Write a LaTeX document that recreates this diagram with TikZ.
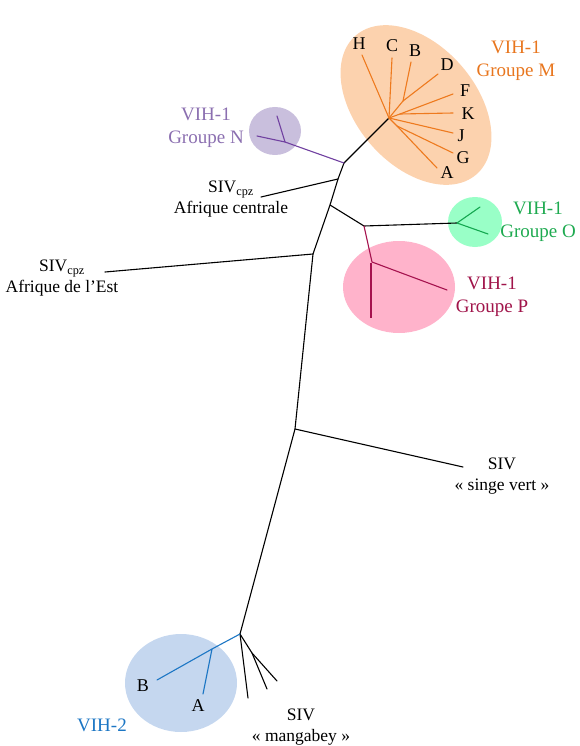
\documentclass[tikz,border=0pt]{standalone}
\usepackage{fontspec}
\setmainfont{Liberation Serif}
\definecolor{mfill}{HTML}{FCD2AE}
\definecolor{mline}{HTML}{EE7A1E}
\definecolor{mtext}{HTML}{E8761E}
\definecolor{nfill}{HTML}{C9BFDD}
\definecolor{nline}{HTML}{7040A0}
\definecolor{ntext}{HTML}{8B6FB0}
\definecolor{ofill}{HTML}{99FFC7}
\definecolor{oline}{HTML}{14A850}
\definecolor{otext}{HTML}{1EAA50}
\definecolor{pfill}{HTML}{FFB3CB}
\definecolor{pline}{HTML}{A5124E}
\definecolor{ptext}{HTML}{A0144A}
\definecolor{bfill}{HTML}{C5D7EF}
\definecolor{bline}{HTML}{1C76C4}
\begin{document}
\begin{tikzpicture}[x=1pt,y=-1pt,
  br/.style={line width=1.1pt, line cap=round},
  lab/.style={font=\fontsize{17.5}{21}\selectfont, align=center, inner sep=0pt},
  vih/.style={font=\fontsize{19}{23}\selectfont, align=center, inner sep=0pt},
  let/.style={font=\fontsize{18}{21}\selectfont, inner sep=0pt}]
\useasboundingbox (0,0) rectangle (579,746);
% ellipses
\fill[mfill, shift={(416,105)}, rotate=-49] (0,0) ellipse [x radius=92, y radius=60];
\fill[nfill] (275,131) ellipse [x radius=26, y radius=24];
\fill[ofill] (475,222) ellipse [x radius=27, y radius=25];
\fill[pfill] (399,287) ellipse [x radius=56, y radius=46];
\fill[bfill] (181,683) ellipse [x radius=56, y radius=49];
% coordinates
\coordinate (vm) at (240,634);
\coordinate (vsv) at (295,429);
\coordinate (vea) at (313,254);
\coordinate (vop) at (330,205);
\coordinate (vac) at (338,179);
\coordinate (vnm) at (344,163);
\coordinate (mh) at (389,118);
\coordinate (sv) at (463,467);
\coordinate (ea) at (105,272);
\coordinate (ac) at (261,197);
\coordinate (opi) at (364,226);
\coordinate (oh) at (457,223);
\coordinate (o1) at (480,207);
\coordinate (o2) at (488,234);
\coordinate (ph) at (372,262);
\coordinate (p1) at (447,290);
\coordinate (pv1) at (371,263);
\coordinate (pv2) at (371,318);
\coordinate (nh) at (285,142);
\coordinate (n1) at (257,136);
\coordinate (n2) at (277,116);
\coordinate (mH) at (362,55);
\coordinate (mC) at (392,58);
\coordinate (mbd) at (403,101);
\coordinate (mB) at (411,62);
\coordinate (mD) at (438,74);
\coordinate (mfk) at (400,114);
\coordinate (mF) at (453,94);
\coordinate (mK) at (453,113);
\coordinate (mJ) at (453,133);
\coordinate (mga) at (397,126);
\coordinate (mG) at (453,153);
\coordinate (mA) at (437,168);
\coordinate (mg1) at (248,698);
\coordinate (mgs) at (252,653);
\coordinate (mg2) at (267,689);
\coordinate (mg3) at (277,681);
\coordinate (v2h) at (212,649);
\coordinate (v2B) at (157,680);
\coordinate (v2A) at (203,694);
% black tree
\draw[br] (vm) -- (vsv) -- (vea) -- (vop) -- (vac) -- (vnm) -- (mh);
\draw[br] (vsv) -- (sv);
\draw[br] (vea) -- (ea);
\draw[br] (vac) -- (ac);
\draw[br] (vop) -- (opi) -- (oh);
\draw[br] (vm) -- (mg1);
\draw[br] (vm) -- (mgs) -- (mg2);
\draw[br] (mgs) -- (mg3);
% O
\draw[br, oline] (oh) -- (o1);
\draw[br, oline] (oh) -- (o2);
% P
\draw[br, pline] (opi) -- (ph) -- (p1);
\draw[pline, line width=2.2pt] (pv1) -- (pv2);
% N
\draw[br, nline] (vnm) -- (nh) -- (n1);
\draw[br, nline] (nh) -- (n2);
% M
\draw[br, mline] (mh) -- (mH);
\draw[br, mline] (mh) -- (mC);
\draw[br, mline] (mh) -- (mbd) -- (mB);
\draw[br, mline] (mbd) -- (mD);
\draw[br, mline] (mh) -- (mfk) -- (mF);
\draw[br, mline] (mfk) -- (mK);
\draw[br, mline] (mh) -- (mJ);
\draw[br, mline] (mh) -- (mga) -- (mG);
\draw[br, mline] (mga) -- (mA);
% VIH-2
\draw[br, bline] (vm) -- (v2h) -- (v2B);
\draw[br, bline] (v2h) -- (v2A);
% labels
\node[vih, text=mtext] (labM) at (516,61) {VIH-1\\Groupe M};
\node[vih, text=ntext] (labN) at (206,128) {VIH-1\\Groupe N};
\node[vih, text=otext] (labO) at (538,222) {VIH-1\\Groupe O};
\node[vih, text=ptext] (labP) at (492,297) {VIH-1\\Groupe P};
\node[vih, text=bline] (lab2) at (102,725) {VIH-2};
\node[lab] (labac) at (231,199) {SIV\textsubscript{cpz}\\Afrique centrale};
\node[lab] (labea) at (62,278) {SIV\textsubscript{cpz}\\Afrique de l’Est};
\node[lab] (labsv) at (502,476) {SIV\\« singe vert »};
\node[lab] (labmg) at (301,727) {SIV\\« mangabey »};
% subtype letters
\node[let] (tH) at (359,44) {H};
\node[let] (tC) at (392,46) {C};
\node[let] (tB) at (415,51) {B};
\node[let] (tD) at (447,65) {D};
\node[let] (tF) at (465,91) {F};
\node[let] (tK) at (468,114) {K};
\node[let] (tJ) at (461,136) {J};
\node[let] (tG) at (463,158) {G};
\node[let] (tA) at (447,173) {A};
\node[let] (t2B) at (143,686) {B};
\node[let] (t2A) at (198,706) {A};
\end{tikzpicture}
\end{document}
